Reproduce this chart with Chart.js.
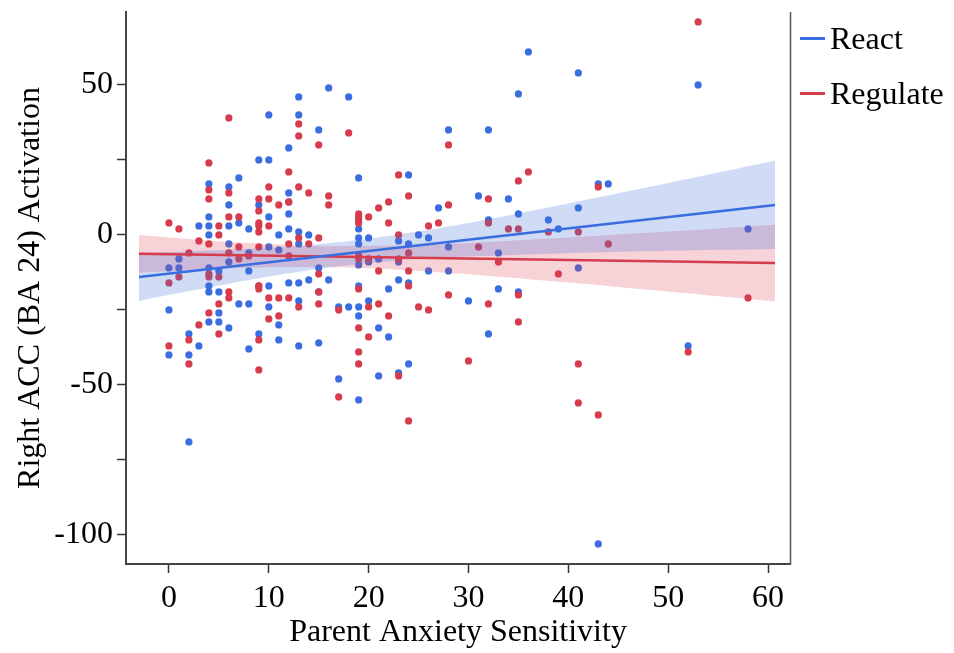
<!DOCTYPE html>
<html>
<head>
<meta charset="utf-8">
<script src="https://cdn.jsdelivr.net/npm/chart.js@4.4.1/dist/chart.umd.min.js"></script>
<style>
  html, body { margin: 0; padding: 0; background: #fff; }
  #wrap { position: relative; width: 954px; height: 653px; }
  #legend { position: absolute; left: 800px; top: 0; font-family: 'Liberation Serif', 'Times New Roman', serif; font-size: 32px; color: #000; }
  .item { position: absolute; left: 0; height: 40px; white-space: nowrap; }
  .swatch { position: absolute; left: 0; width: 25px; height: 2.5px; }
  .label { position: absolute; left: 30px; line-height: 40px; top: 0; }
</style>
</head>
<body>
<div id="wrap"><canvas id="c" width="954" height="653"></canvas><div id="legend"></div></div>
<script>
// ---- data ----
const xTickValues = [0, 10, 20, 30, 40, 50, 60];
const yTickValues = [-100, -75, -50, -25, 0, 25, 50];
const yLabelValues = [-100, -50, 0, 50];

const seriesNames = ["React", "Regulate"];

const reactX = [0,0,0, 1,1, 2,2,2, 3,3, 4,4,4,4,4,4,4,4, 5,5,5,5, 6,6,6,6,6,6, 7,7,7, 8,8,8,8,8, 9,9,9,9, 10,10,10,10,10,10, 11,11,11,11, 12,12,12,12,12,12, 13,13,13,13,13,13,13, 14,14, 15,15,15,15, 16,16, 17,17, 18,18, 19,19,19,19,19,19,19,19,19, 20,20,20, 21,21,21, 22,22, 23,23,23,23, 24,24,24,24, 25, 26,26, 27, 28,28,28, 30, 31, 32,32,32, 33,33, 34, 35,35,35, 36, 38, 39, 41,41,41, 43,43, 44, 52, 53, 58];
const reactY = [-11,-25,-40, -8,-11, -33,-40,-69, 3,-37, 17,6,3,0,-11,-17,-19,-29, -12,-19,-26,-29, 16,10,3,-3,-9,-31, 19,4,-23, 2,-6,-12,-23,-38, 25,10,-17,-33, 40,25,6,-4,-17,-24, 0,-5,-30,-35, 29,14,11,7,2,-16, 46,40,1,-3,-16,-22,-37, 0,-15, 35,-11,-19,-36, 49,-15, -24,-48, 46,-24, 19,2,-1,-3,-10,-17,-24,-27,-55, -1,-9,-22, -8,-31,-47, -18,-34, -2,-9,-15,-46, 20,-3,-16,-43, 0, -1,-12, 9, 35,-4,-12, -22, 13, 35,5,-33, -6,-18, 12, 47,7,-19, 61, 5, 2, 54,9,-11, 17,-103, 17, -37, 50, 2];

const regulateX = [0,0,0, 1,1, 2,2,2, 3,3, 4,4,4,4,4,4,4, 5,5,5,5,5, 6,6,6,6,6,6, 7,7,7, 8, 9,9,9,9,9,9,9,9,9,9, 10,10,10,10,10, 11,11,11, 12,12,12,12,12, 13,13,13,13,13, 14,14, 15,15,15,15,15, 16,16, 17,17, 18, 19,19,19,19,19,19,19,19,19,19, 20,20,20,20, 21,21,21, 22,22,22, 23,23,23,23, 24,24,24,24,24, 25, 26,26, 27, 28,28,28, 30, 31, 32,32,32, 33, 34, 35,35,35,35, 36, 38, 39, 41,41,41, 43,43, 44, 52, 53, 58];
const regulateY = [4,-16,-37, 2,-14, -6,-35,-43, -2,-30, 24,15,12,-3,-13,-14,-26, 3,0,-14,-23,-33, 39,14,6,-6,-19,-21, 6,-4,-8, -7, 12,8,4,3,1,-4,-17,-18,-35,-45, 16,12,3,-21,-28, 10,-21,-27, 21,11,-3,-7,-21, 37,33,16,-1,-24, 14,-3, 30,-1,-13,-19,-23, 13,10, -25,-54, 34, 7,6,5,4,-7,-8,-18,-31,-39,-43, 6,-8,-24,-34, 9,-12,-23, 11,4,-27, 20,0,-8,-47, 13,-6,-12,-17,-62, -24, 3,-25, 4, 30,10,-20, -42, -4, 12,4,-23, -9, 2, 18,2,-20,-29, 21, 1, -13, 1,-43,-56, 16,-60, -3, -39, 71, -21];

// fitted lines and confidence bands, read at a few x positions
const fitX = [-3, 60.7];
const reactFit = [-14, 10];
const regulateFit = [-6.3, -9.4];

const bandX = [-3, 5, 10, 15, 20, 25, 30, 40, 50, 60.7];
const reactLower = [-22, -16.9, -13.9, -11.3, -9.4, -8.0, -7.2, -6.1, -5.3, -4.7];
const reactUpper = [-6, -5.1, -4.3, -3.1, -1.3, 1.2, 4.0, 10.5, 17.3, 24.7];
const regulateLower = [-12.6, -11.3, -10.8, -10.7, -11.1, -12.0, -13.1, -15.9, -18.9, -22.2];
const regulateUpper = [0, -2.1, -3.0, -3.7, -3.7, -3.4, -2.7, -0.9, 1.1, 3.4];

// ---- styles ----
const BLUE = 'rgb(58,110,224)';
const RED = 'rgb(214,60,76)';
const BLUE_BAND = 'rgba(66,110,220,0.25)';
const RED_BAND = 'rgba(220,60,80,0.23)';
const FONT = "'Liberation Serif', 'Times New Roman', serif";
const seriesColors = [BLUE, RED];

// HTML legend built from the series names
const legendEl = document.getElementById('legend');
seriesNames.forEach((name, i) => {
  const item = document.createElement('div');
  item.className = 'item';
  item.style.top = (18 + i * 55) + 'px';
  const sw = document.createElement('span');
  sw.className = 'swatch';
  sw.style.background = seriesColors[i];
  sw.style.top = '19px';
  const lb = document.createElement('span');
  lb.className = 'label';
  lb.textContent = name;
  item.appendChild(sw);
  item.appendChild(lb);
  legendEl.appendChild(item);
});

const zip = (xs, ys) => xs.map((x, i) => ({x: x, y: ys[i]}));

const rightBorder = {
  id: 'rightBorder',
  afterDraw(chart) {
    const {ctx, chartArea} = chart;
    ctx.save();
    ctx.strokeStyle = '#555';
    ctx.lineWidth = 1.5;
    ctx.beginPath();
    ctx.moveTo(chartArea.right + 0.5, chartArea.top);
    ctx.lineTo(chartArea.right + 0.5, chartArea.bottom + 1);
    ctx.stroke();
    ctx.restore();
  }
};

const noPad = (s) => { s.paddingTop = 0; s.paddingBottom = 0; s.paddingLeft = 0; s.paddingRight = 0; };

new Chart(document.getElementById('c'), {
  type: 'scatter',
  data: {
    datasets: [
      { type: 'line', label: seriesNames[0], data: zip(fitX, reactFit), borderColor: BLUE, borderWidth: 2.5, pointRadius: 0, fill: false, order: 0 },
      { type: 'line', label: seriesNames[1], data: zip(fitX, regulateFit), borderColor: RED, borderWidth: 2.5, pointRadius: 0, fill: false, order: 0 },
      { type: 'line', label: 'reactUpper', data: zip(bandX, reactUpper), borderWidth: 0, pointRadius: 0, backgroundColor: BLUE_BAND, fill: '+1', tension: 0.3, order: 1 },
      { type: 'line', label: 'reactLower', data: zip(bandX, reactLower), borderWidth: 0, pointRadius: 0, fill: false, tension: 0.3, order: 1 },
      { type: 'line', label: 'regulateUpper', data: zip(bandX, regulateUpper), borderWidth: 0, pointRadius: 0, backgroundColor: RED_BAND, fill: '+1', tension: 0.3, order: 1 },
      { type: 'line', label: 'regulateLower', data: zip(bandX, regulateLower), borderWidth: 0, pointRadius: 0, fill: false, tension: 0.3, order: 1 },
      { label: 'Regulate points', data: zip(regulateX, regulateY), backgroundColor: RED, borderWidth: 0, pointRadius: 3.6, order: 2 },
      { label: 'React points', data: zip(reactX, reactY), backgroundColor: BLUE, borderWidth: 0, pointRadius: 3.6, order: 3 }
    ]
  },
  options: {
    responsive: false,
    animation: false,
    devicePixelRatio: 1,
    layout: { padding: { top: 12, right: 164, bottom: 0, left: 0 } },
    plugins: {
      tooltip: { enabled: false },
      legend: { display: false }
    },
    scales: {
      x: {
        type: 'linear',
        min: -4.3,
        max: 62.2,
        afterFit: (s) => { s.height = 89; noPad(s); },
        afterBuildTicks: (s) => { s.ticks = xTickValues.map(v => ({value: v})); },
        border: { display: true, color: '#444', width: 2 },
        grid: { display: true, drawOnChartArea: false, drawTicks: true, tickLength: 9, tickColor: '#333', tickWidth: 1.5 },
        ticks: { font: { family: FONT, size: 32 }, color: '#000', padding: 6, maxRotation: 0, autoSkip: false },
        title: { display: true, text: 'Parent Anxiety Sensitivity', font: { family: FONT, size: 32 }, color: '#000', padding: { top: 0, bottom: 1 } }
      },
      y: {
        type: 'linear',
        min: -109.7,
        max: 74.3,
        afterFit: (s) => { s.width = 126; noPad(s); },
        afterBuildTicks: (s) => { s.ticks = yTickValues.map(v => ({value: v})); },
        border: { display: true, color: '#444', width: 2 },
        grid: { display: true, drawOnChartArea: false, drawTicks: true, tickLength: 9, tickColor: '#333', tickWidth: 1.5 },
        ticks: {
          font: { family: FONT, size: 32 }, color: '#000', padding: 4, autoSkip: false,
          callback: (v) => yLabelValues.includes(v) ? String(v) : ''
        },
        title: { display: true, text: 'Right ACC (BA 24) Activation', font: { family: FONT, size: 32 }, color: '#000', padding: { top: 11, bottom: 0 } }
      }
    }
  },
  plugins: [rightBorder]
});
</script>
</body>
</html>
